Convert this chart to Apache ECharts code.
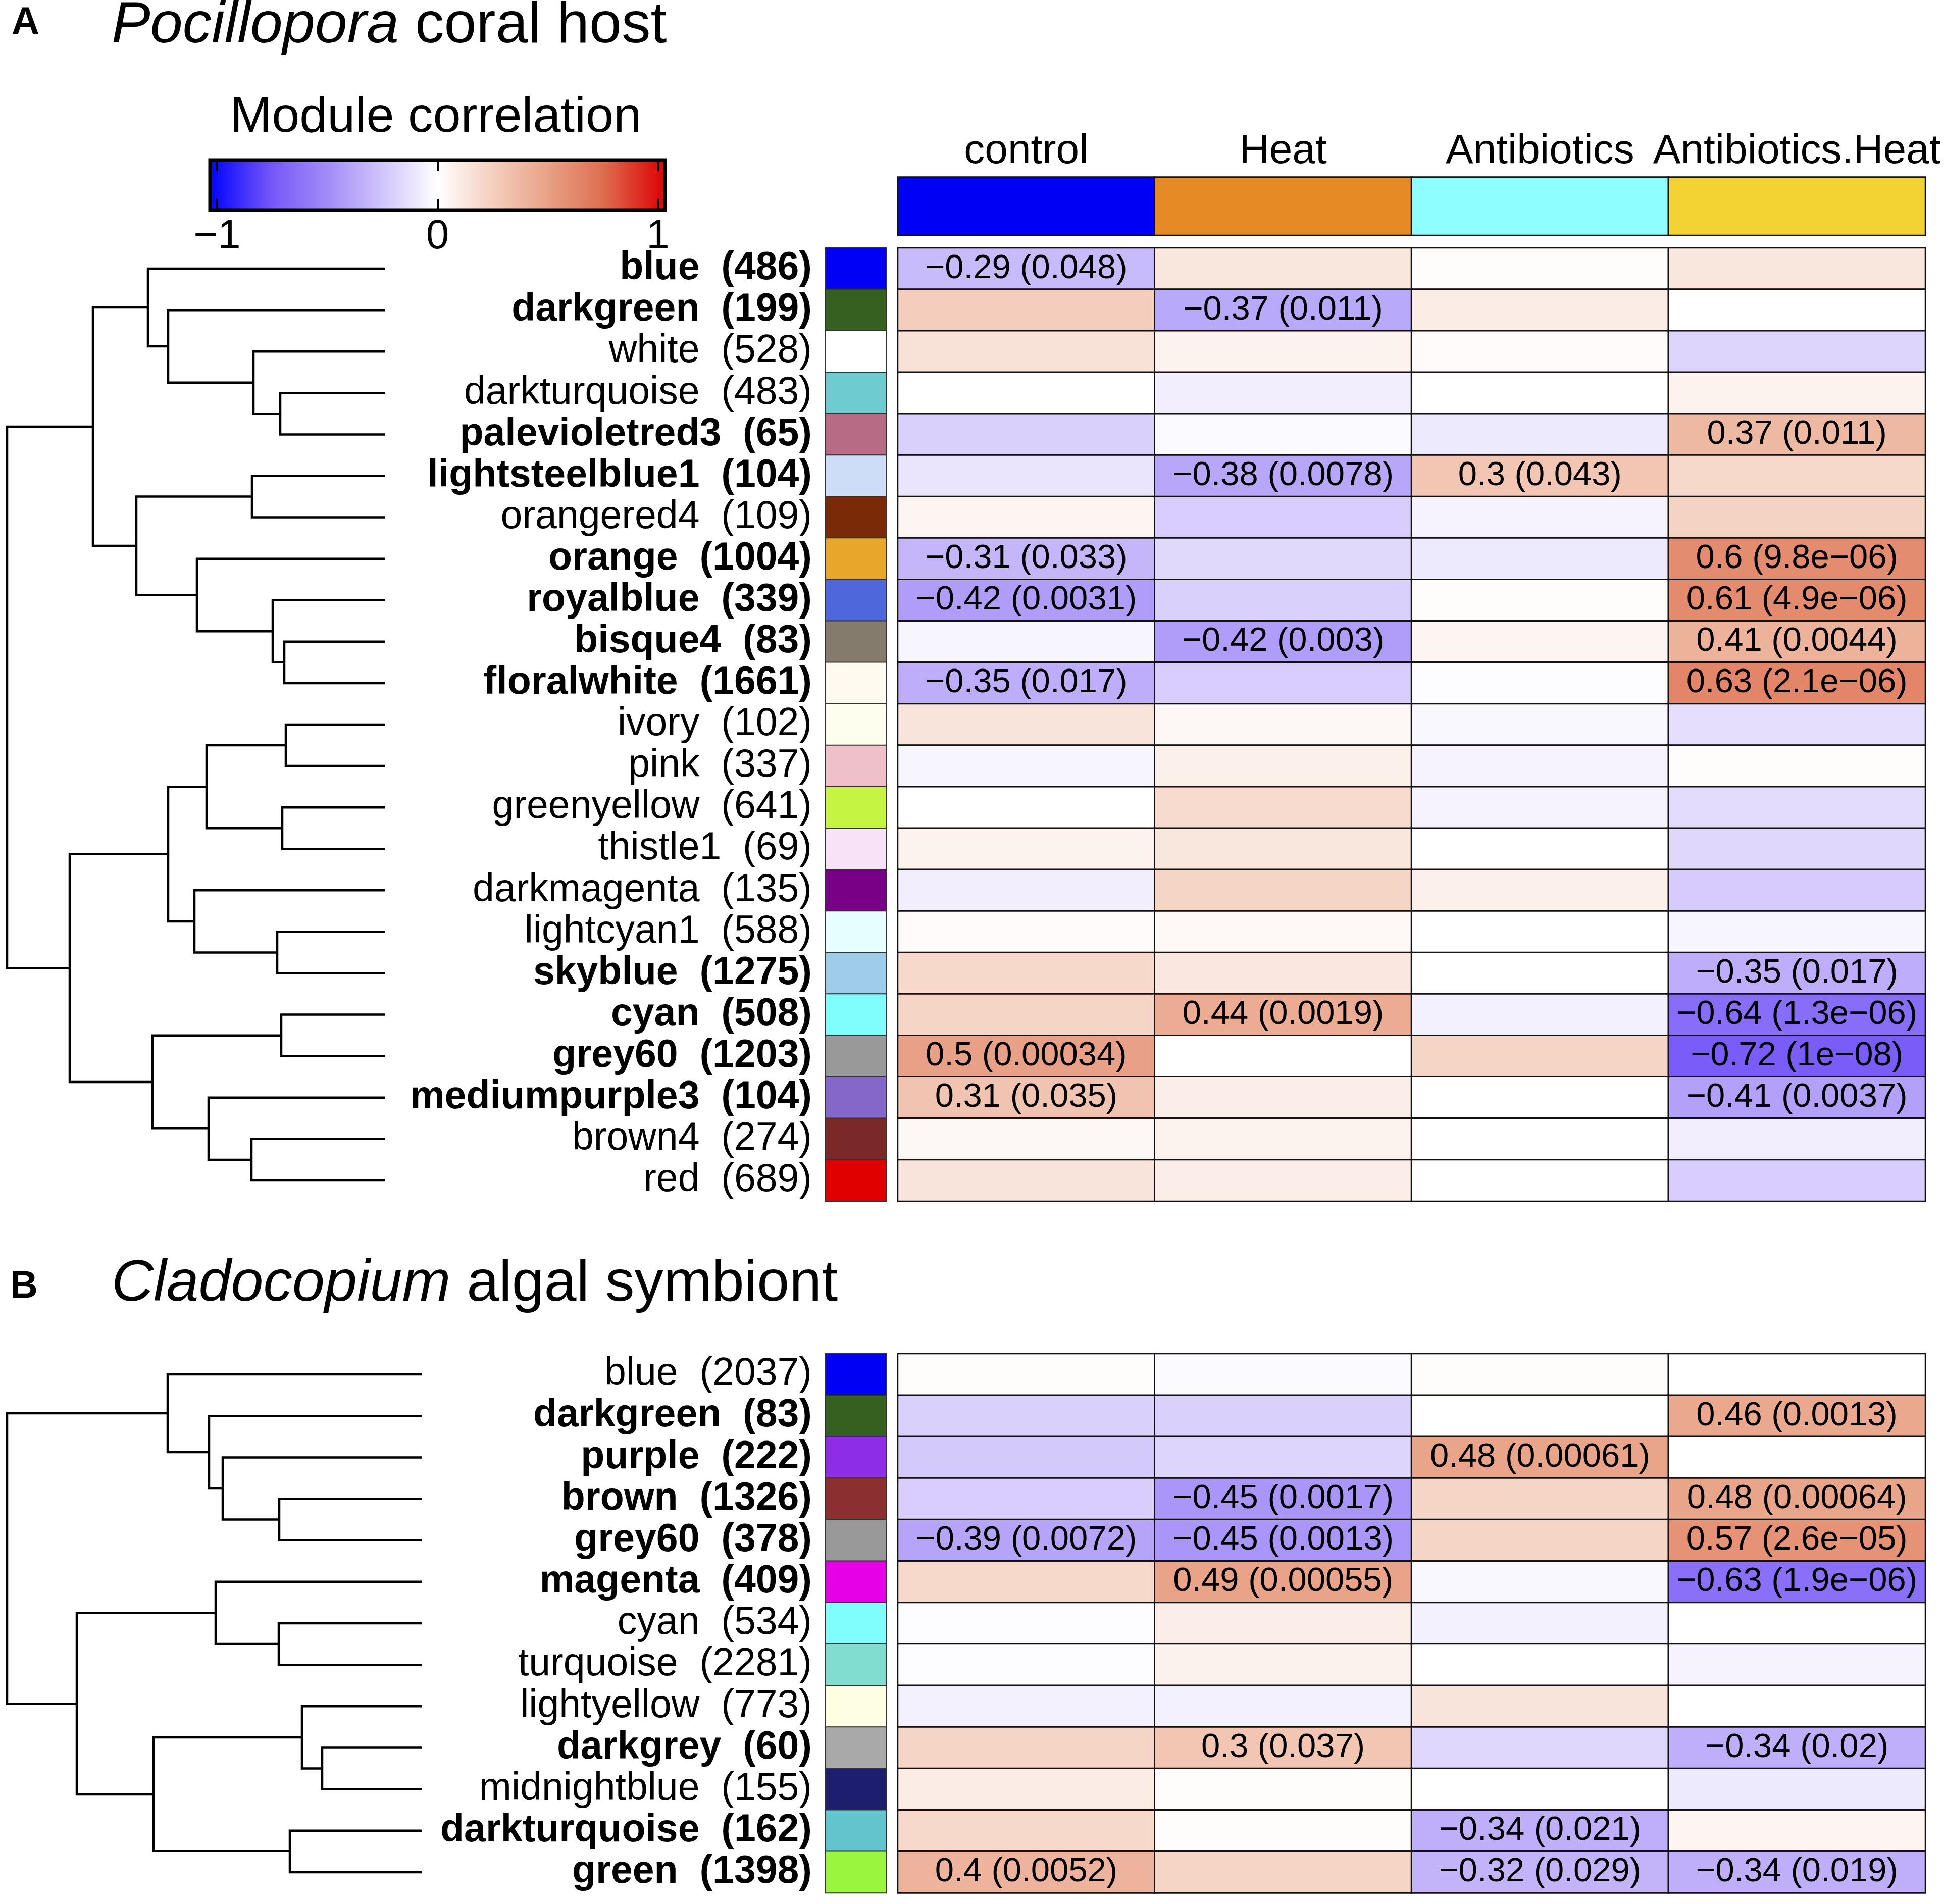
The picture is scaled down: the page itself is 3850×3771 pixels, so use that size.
<!DOCTYPE html>
<html><head><meta charset="utf-8">
<script src="https://cdn.jsdelivr.net/npm/echarts@6/dist/echarts.min.js"></script>
<style>html,body{margin:0;padding:0;background:#fff}#chart{width:3850px;height:3771px}</style>
</head><body><div id="chart"></div>
<script>
// ---------------- DATA ----------------
var conditions = ['control', 'Heat', 'Antibiotics', 'Antibiotics.Heat'];
var conditionColors = ['#0000F5', '#E68A25', '#8FFEFE', '#F2D333'];

var colorbarTicks = [-1, 0, 1];
var corrPalette = ['#0A0AFF', '#7556F8', '#A18BF8', '#D0C4FB', '#FFFFFF', '#F4CFBE', '#E8A186', '#DE6C4E', '#DC0A0A'];

// Panel A: Pocillopora coral host
var hostModules = ['blue', 'darkgreen', 'white', 'darkturquoise', 'palevioletred3', 'lightsteelblue1', 'orangered4', 'orange', 'royalblue', 'bisque4', 'floralwhite', 'ivory', 'pink', 'greenyellow', 'thistle1', 'darkmagenta', 'lightcyan1', 'skyblue', 'cyan', 'grey60', 'mediumpurple3', 'brown4', 'red'];
var hostSizes = [486, 199, 528, 483, 65, 104, 109, 1004, 339, 83, 1661, 102, 337, 641, 69, 135, 588, 1275, 508, 1203, 104, 274, 689];
var hostColors = ['#0000F5', '#35601F', '#FFFFFF', '#6ECCD0', '#B76B85', '#CDDDF8', '#7A2A06', '#E8A62B', '#4E68DC', '#847B6C', '#FEFAEF', '#FEFEEF', '#EFC0CA', '#C6F443', '#F8E2F8', '#770086', '#E6FEFE', '#9FCCE8', '#80FEFE', '#999999', '#8467C8', '#7A2828', '#E00000'];
var hostCorr = [
  [-0.29, 0.13, 0.01, 0.13],
  [0.26, -0.37, 0.1, 0.0],
  [0.15, 0.06, 0.02, -0.18],
  [0.0, -0.07, 0.0, 0.06],
  [-0.2, -0.02, -0.09, 0.37],
  [-0.11, -0.38, 0.3, 0.2],
  [0.05, -0.21, -0.05, 0.23],
  [-0.31, -0.16, -0.09, 0.6],
  [-0.42, -0.2, 0.01, 0.61],
  [-0.04, -0.42, 0.05, 0.41],
  [-0.35, -0.21, -0.01, 0.63],
  [0.14, 0.04, -0.03, -0.14],
  [-0.04, 0.08, -0.05, 0.01],
  [0.0, 0.19, -0.05, -0.15],
  [0.06, 0.13, 0.0, -0.17],
  [-0.07, 0.22, 0.08, -0.22],
  [0.02, 0.03, 0.0, -0.04],
  [0.2, 0.12, 0.0, -0.35],
  [0.22, 0.44, -0.06, -0.64],
  [0.5, 0.0, 0.22, -0.72],
  [0.31, 0.09, 0.0, -0.41],
  [0.04, 0.06, 0.0, -0.07],
  [0.14, 0.09, 0.0, -0.21]
];
var hostP = [
  ['0.048', null, null, null],
  [null, '0.011', null, null],
  [null, null, null, null],
  [null, null, null, null],
  [null, null, null, '0.011'],
  [null, '0.0078', '0.043', null],
  [null, null, null, null],
  ['0.033', null, null, '9.8e-06'],
  ['0.0031', null, null, '4.9e-06'],
  [null, '0.003', null, '0.0044'],
  ['0.017', null, null, '2.1e-06'],
  [null, null, null, null],
  [null, null, null, null],
  [null, null, null, null],
  [null, null, null, null],
  [null, null, null, null],
  [null, null, null, null],
  [null, null, null, '0.017'],
  [null, '0.0019', null, '1.3e-06'],
  ['0.00034', null, null, '1e-08'],
  ['0.035', null, null, '0.0037'],
  [null, null, null, null],
  [null, null, null, null]
];
// dendrogram: [mergeHeight, left, right]; leaves are row indices
var hostTree = [0.749,
  [0.579,
    [0.470, 0, [0.430, 1, [0.261, 2, [0.208, 3, 4]]]],
    [0.493, [0.264, 5, 6], [0.373, 7, [0.223, 8, [0.200, 9, 10]]]]
  ],
  [0.625,
    [0.430, [0.354, [0.197, 11, 12], [0.204, 13, 14]], [0.378, 15, [0.214, 16, 17]]],
    [0.461, [0.206, 18, 19], [0.350, 20, [0.265, 21, 22]]]
  ]
];

// Panel B: Cladocopium algal symbiont
var algaeModules = ['blue', 'darkgreen', 'purple', 'brown', 'grey60', 'magenta', 'cyan', 'turquoise', 'lightyellow', 'darkgrey', 'midnightblue', 'darkturquoise', 'green'];
var algaeSizes = [2037, 83, 222, 1326, 378, 409, 534, 2281, 773, 60, 155, 162, 1398];
var algaeColors = ['#0000F5', '#35601F', '#8E2DE6', '#8C2F30', '#999999', '#E600E6', '#80FEFE', '#80DDCF', '#FEFEE3', '#A9A9A9', '#1E1E6E', '#62C4CC', '#99F53E'];
var algaeCorr = [
  [0.01, -0.02, 0.01, 0.0],
  [-0.2, -0.2, 0.0, 0.46],
  [-0.23, -0.18, 0.48, 0.0],
  [-0.21, -0.45, 0.22, 0.48],
  [-0.39, -0.45, 0.22, 0.57],
  [0.2, 0.49, -0.03, -0.63],
  [-0.01, 0.09, -0.06, 0.0],
  [-0.01, 0.07, 0.0, -0.05],
  [-0.06, -0.06, 0.14, 0.0],
  [0.22, 0.3, -0.17, -0.34],
  [0.1, 0.01, 0.0, -0.09],
  [0.2, 0.01, -0.34, 0.05],
  [0.4, 0.22, -0.32, -0.34]
];
var algaeP = [
  [null, null, null, null],
  [null, null, null, '0.0013'],
  [null, null, '0.00061', null],
  [null, '0.0017', null, '0.00064'],
  ['0.0072', '0.0013', null, '2.6e-05'],
  [null, '0.00055', null, '1.9e-06'],
  [null, null, null, null],
  [null, null, null, null],
  [null, null, null, null],
  [null, '0.037', null, '0.02'],
  [null, null, null, null],
  [null, null, '0.021', null],
  ['0.0052', null, '0.029', '0.019']
];
var algaeTree = [0.821,
  [0.503, 0, [0.421, 1, [0.394, 2, [0.282, 3, 4]]]],
  [0.683, [0.408, 5, [0.283, 6, 7]], [0.531, [0.237, 8, [0.197, 9, 10]], [0.261, 11, 12]]]
];

// ---------------- HELPERS ----------------
var FONT = "'Liberation Sans', Arial, Helvetica, sans-serif";
function fmtNum(v) { return String(v).replace('-', '\u2212'); }
function cellData(corr) {
  var d = [];
  corr.forEach(function (row, r) { row.forEach(function (v, c) { d.push([c, r, v]); }); });
  return d;
}
function swatchData(cols) {
  return cols.map(function (c, i) { return { value: [0, i, 0], itemStyle: { color: c } }; });
}
function dendroLines(tree) {
  var out = [];
  function walk(n) {
    if (typeof n === 'number') return { h: 0, y: n };
    var a = walk(n[1]), b = walk(n[2]);
    out.push({ coords: [[a.h, a.y], [n[0], a.y], [n[0], b.y], [b.h, b.y]] });
    return { h: n[0], y: (a.y + b.y) / 2 };
  }
  walk(tree);
  return out;
}
function cellLabel(P) {
  return function (p) {
    var pv = P[p.data[1]][p.data[0]];
    return pv ? fmtNum(p.data[2]) + ' (' + pv.replace('-', '\u2212') + ')' : '';
  };
}
function rowLabel(names, sizes, P) {
  return function (value, idx) {
    var sig = P[idx].some(function (x) { return !!x; });
    var k = sig ? 'b' : 'r';
    return '{' + k + '|' + names[idx] + '  (' + sizes[idx] + ')}';
  };
}
var rowRich = {
  b: { fontFamily: FONT, fontSize: 77, fontWeight: 'bold', color: '#000' },
  r: { fontFamily: FONT, fontSize: 77, color: '#000' }
};
var cbMin = -1.032, cbMax = 1.032;
function cbStops() {
  var n = corrPalette.length, stops = [{ offset: 0, color: corrPalette[0] }];
  corrPalette.forEach(function (c, i) {
    var v = -1 + 2 * i / (n - 1);
    stops.push({ offset: (v - cbMin) / (cbMax - cbMin), color: c });
  });
  stops.push({ offset: 1, color: corrPalette[n - 1] });
  return stops;
}

var heatLabel = { show: true, fontFamily: FONT, fontSize: 67, color: '#000' };
var heatItem = { borderColor: '#111', borderWidth: 3 };

var chart = echarts.init(document.getElementById('chart'), null, { renderer: 'canvas', width: 3850, height: 3771 });

var option = {
  backgroundColor: '#fff',
  animation: false,
  textStyle: { fontFamily: FONT },
  grid: [
    { left: 1778, top: 491, width: 2035, height: 1888 },   // 0 heat A
    { left: 1635, top: 491, width: 120, height: 1888 },    // 1 swatch A
    { left: 1778, top: 351, width: 2035, height: 115 },    // 2 traits
    { left: 14, top: 491, width: 749, height: 1888 },      // 3 dendro A
    { left: 416, top: 317, width: 901, height: 99 },       // 4 colorbar
    { left: 1778, top: 2681, width: 2035, height: 1068 },  // 5 heat B
    { left: 1635, top: 2681, width: 120, height: 1068 },   // 6 swatch B
    { left: 14, top: 2681, width: 821, height: 1068 }      // 7 dendro B
  ],
  xAxis: [
    { type: 'category', gridIndex: 0, data: conditions, show: false },
    { type: 'category', gridIndex: 1, data: ['m'], show: false },
    { type: 'category', gridIndex: 2, data: conditions, position: 'top',
      axisLine: { show: false }, axisTick: { show: false },
      axisLabel: { interval: 0, hideOverlap: false, fontSize: 82, color: '#000', margin: 10, fontFamily: FONT } },
    { type: 'value', gridIndex: 3, min: 0, max: hostTree[0], inverse: true, show: false },
    { type: 'value', gridIndex: 4, min: cbMin, max: cbMax, position: 'bottom', z: 10,
      axisLine: { show: false }, splitLine: { show: false },
      axisTick: { show: true, inside: true, length: 22, customValues: colorbarTicks, lineStyle: { color: '#000', width: 4 } },
      axisLabel: { customValues: colorbarTicks, formatter: fmtNum, fontSize: 82, color: '#000', margin: 12, fontFamily: FONT } },
    { type: 'value', gridIndex: 4, min: cbMin, max: cbMax, position: 'top', z: 10,
      axisLine: { show: false }, splitLine: { show: false },
      axisTick: { show: true, inside: true, length: 22, customValues: colorbarTicks, lineStyle: { color: '#000', width: 4 } },
      axisLabel: { show: false } },
    { type: 'category', gridIndex: 5, data: conditions, show: false },
    { type: 'category', gridIndex: 6, data: ['m'], show: false },
    { type: 'value', gridIndex: 7, min: 0, max: algaeTree[0], inverse: true, show: false }
  ],
  yAxis: [
    { type: 'category', gridIndex: 0, data: hostModules, inverse: true, show: false },
    { type: 'category', gridIndex: 1, data: hostModules, inverse: true,
      axisLine: { show: false }, axisTick: { show: false },
      axisLabel: { interval: 0, margin: 27, formatter: rowLabel(hostModules, hostSizes, hostP), rich: rowRich } },
    { type: 'category', gridIndex: 2, data: ['t'], show: false },
    { type: 'value', gridIndex: 3, min: -0.5, max: hostModules.length - 0.5, inverse: true, show: false },
    { type: 'value', gridIndex: 4, min: 0, max: 1, show: false },
    { type: 'category', gridIndex: 5, data: algaeModules, inverse: true, show: false },
    { type: 'category', gridIndex: 6, data: algaeModules, inverse: true,
      axisLine: { show: false }, axisTick: { show: false },
      axisLabel: { interval: 0, margin: 27, formatter: rowLabel(algaeModules, algaeSizes, algaeP), rich: rowRich } },
    { type: 'value', gridIndex: 7, min: -0.5, max: algaeModules.length - 0.5, inverse: true, show: false }
  ],
  visualMap: [{
    type: 'continuous', show: false, min: -1, max: 1, dimension: 2, seriesIndex: [0, 1],
    inRange: { color: corrPalette }
  }],
  series: [
    { type: 'heatmap', name: 'host', xAxisIndex: 0, yAxisIndex: 0, data: cellData(hostCorr),
      label: Object.assign({ formatter: cellLabel(hostP) }, heatLabel), itemStyle: heatItem, emphasis: { disabled: true } },
    { type: 'heatmap', name: 'algae', xAxisIndex: 6, yAxisIndex: 5, data: cellData(algaeCorr),
      label: Object.assign({ formatter: cellLabel(algaeP) }, heatLabel), itemStyle: heatItem, emphasis: { disabled: true } },
    { type: 'heatmap', xAxisIndex: 1, yAxisIndex: 1, data: swatchData(hostColors),
      itemStyle: { borderColor: '#333', borderWidth: 2 }, emphasis: { disabled: true } },
    { type: 'heatmap', xAxisIndex: 7, yAxisIndex: 6, data: swatchData(algaeColors),
      itemStyle: { borderColor: '#333', borderWidth: 2 }, emphasis: { disabled: true } },
    { type: 'heatmap', xAxisIndex: 2, yAxisIndex: 2,
      data: conditionColors.map(function (c, i) { return { value: [i, 0, 0], itemStyle: { color: c } }; }),
      itemStyle: { borderColor: '#111', borderWidth: 3 }, emphasis: { disabled: true } },
    { type: 'lines', coordinateSystem: 'cartesian2d', xAxisIndex: 3, yAxisIndex: 3, polyline: true, silent: true,
      data: dendroLines(hostTree), lineStyle: { color: '#000', width: 4.5, opacity: 1 } },
    { type: 'lines', coordinateSystem: 'cartesian2d', xAxisIndex: 8, yAxisIndex: 7, polyline: true, silent: true,
      data: dendroLines(algaeTree), lineStyle: { color: '#000', width: 4.5, opacity: 1 } },
    { type: 'custom', xAxisIndex: 4, yAxisIndex: 4, data: [[0, 0]], silent: true, z: 2,
      renderItem: function (params, api) {
        var p0 = api.coord([cbMin, 1]), p1 = api.coord([cbMax, 0]);
        return { type: 'rect', shape: { x: p0[0], y: p0[1], width: p1[0] - p0[0], height: p1[1] - p0[1] },
          style: { fill: new echarts.graphic.LinearGradient(0, 0, 1, 0, cbStops()), stroke: '#000', lineWidth: 7 } };
      } }
  ],
  graphic: [
    { type: 'text', x: 23, y: 46, style: { text: 'A', fontFamily: FONT, fontSize: 76, fontWeight: 'bold', fill: '#000', align: 'left', verticalAlign: 'middle' } },
    { type: 'text', x: 221, y: 52, style: { text: '{i|Pocillopora} coral host', fontFamily: FONT, fontSize: 115, fill: '#000', align: 'left', verticalAlign: 'middle',
      rich: { i: { fontFamily: FONT, fontSize: 115, fontStyle: 'italic', fill: '#000' } } } },
    { type: 'text', x: 863, y: 234, style: { text: 'Module correlation', fontFamily: FONT, fontSize: 99, fill: '#000', align: 'center', verticalAlign: 'middle' } },
    { type: 'text', x: 20, y: 2549, style: { text: 'B', fontFamily: FONT, fontSize: 76, fontWeight: 'bold', fill: '#000', align: 'left', verticalAlign: 'middle' } },
    { type: 'text', x: 221, y: 2544, style: { text: '{i|Cladocopium} algal symbiont', fontFamily: FONT, fontSize: 115, fill: '#000', align: 'left', verticalAlign: 'middle',
      rich: { i: { fontFamily: FONT, fontSize: 115, fontStyle: 'italic', fill: '#000' } } } }
  ]
};
chart.setOption(option);
</script></body></html>
